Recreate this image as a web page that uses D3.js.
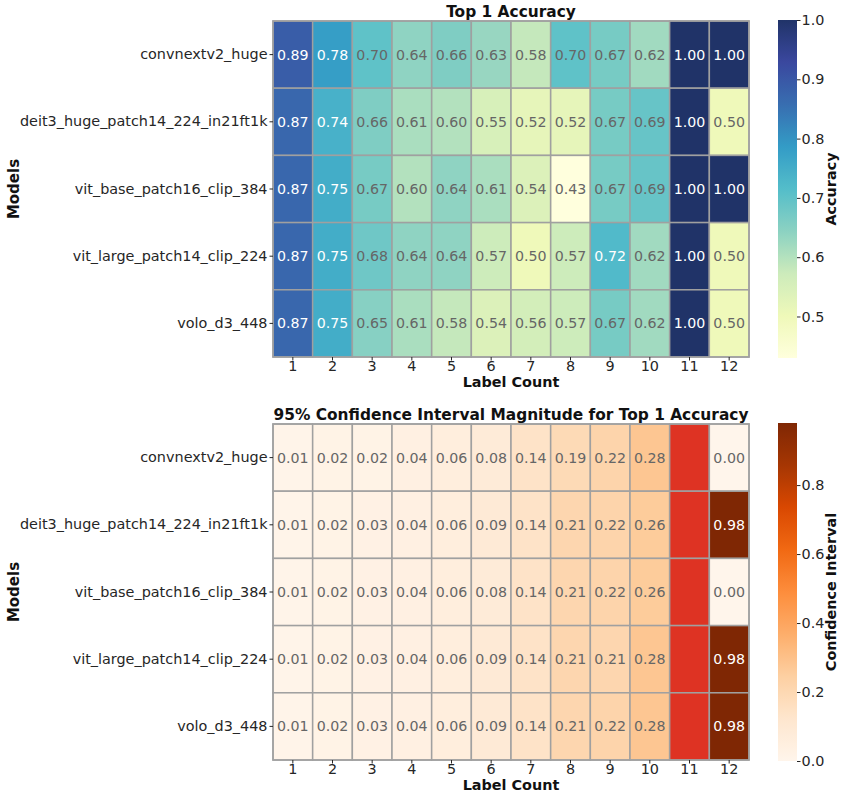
<!DOCTYPE html>
<html>
<head>
<meta charset="utf-8">
<script src="https://cdn.jsdelivr.net/npm/d3@7"></script>
<style>
body{margin:0;background:#fff;}
text{font-family:"DejaVu Sans",sans-serif;}
</style>
</head>
<body>
<svg id="chart" width="842" height="793"></svg>
<script>
const models = ["convnextv2_huge","deit3_huge_patch14_224_in21ft1k","vit_base_patch16_clip_384","vit_large_patch14_clip_224","volo_d3_448"];
const labelCounts = [1,2,3,4,5,6,7,8,9,10,11,12];
const accuracy = [
  [0.89,0.78,0.70,0.64,0.66,0.63,0.58,0.70,0.67,0.62,1.00,1.00],
  [0.87,0.74,0.66,0.61,0.60,0.55,0.52,0.52,0.67,0.69,1.00,0.50],
  [0.87,0.75,0.67,0.60,0.64,0.61,0.54,0.43,0.67,0.69,1.00,1.00],
  [0.87,0.75,0.68,0.64,0.64,0.57,0.50,0.57,0.72,0.62,1.00,0.50],
  [0.87,0.75,0.65,0.61,0.58,0.54,0.56,0.57,0.67,0.62,1.00,0.50]
];
const confInterval = [
  [0.01,0.02,0.02,0.04,0.06,0.08,0.14,0.19,0.22,0.28,null,0.00],
  [0.01,0.02,0.03,0.04,0.06,0.09,0.14,0.21,0.22,0.26,null,0.98],
  [0.01,0.02,0.03,0.04,0.06,0.08,0.14,0.21,0.22,0.26,null,0.00],
  [0.01,0.02,0.03,0.04,0.06,0.09,0.14,0.21,0.21,0.28,null,0.98],
  [0.01,0.02,0.03,0.04,0.06,0.09,0.14,0.21,0.22,0.28,null,0.98]
];
const accTicks = [0.5,0.6,0.7,0.8,0.9,1.0];
const ciTicks = [0.0,0.2,0.4,0.6,0.8];

const svg = d3.select("#chart");
const X0 = 273, X1 = 749;
const CBX = 778, CBW = 19;

const ylgnbu = d3.piecewise(d3.interpolateRgb, d3.schemeYlGnBu[9]);
const oranges = d3.piecewise(d3.interpolateRgb, d3.schemeOranges[9]);

function luminance(c){
  const col = d3.rgb(c);
  const f = v => { v/=255; return v<=0.03928? v/12.92 : Math.pow((v+0.055)/1.055,2.4); };
  return 0.2126*f(col.r)+0.7152*f(col.g)+0.0722*f(col.b);
}

function heatmap(opts){
  const {data, y0, y1, interp, domain, title, cbLabel, ticks, nanColor, alpha} = opts;
  const x = d3.scaleBand().domain(labelCounts).range([X0,X1]);
  const y = d3.scaleBand().domain(models).range([y0,y1]);
  const color = d3.scaleSequential(interp).domain(domain);
  const g = svg.append("g");
  const cells = [];
  data.forEach((row,i)=>row.forEach((v,j)=>cells.push({m:models[i],c:labelCounts[j],v})));
  const fillOf = d => d.v===null ? nanColor : color(d.v);
  g.selectAll("rect.cell").data(cells).join("rect")
    .attr("class","cell")
    .attr("x",d=>x(d.c)).attr("y",d=>y(d.m))
    .attr("width",x.bandwidth()).attr("height",y.bandwidth())
    .attr("fill",fillOf).attr("fill-opacity",d=>d.v===null?1:alpha)
    .attr("stroke","#a0a0a0").attr("stroke-width",1.5);
  g.selectAll("text.ann").data(cells.filter(d=>d.v!==null)).join("text")
    .attr("class","ann")
    .attr("x",d=>x(d.c)+x.bandwidth()/2).attr("y",d=>y(d.m)+y.bandwidth()/2)
    .attr("text-anchor","middle").attr("dominant-baseline","central")
    .attr("font-size",14.2)
    .attr("fill",d=>luminance(fillOf(d))<0.408?"#ffffff":"#666666")
    .text(d=>d.v.toFixed(2));
  g.append("rect").attr("x",X0).attr("y",y0).attr("width",X1-X0).attr("height",y1-y0)
    .attr("fill","none").attr("stroke","#a0a0a0").attr("stroke-width",1.5);

  // axes
  const ya = d3.axisLeft(y).tickSize(3.5).tickPadding(2);
  const yg = g.append("g").attr("transform",`translate(${X0},0)`).call(ya);
  yg.select(".domain").remove();
  yg.selectAll("text").attr("font-size",14.4).attr("fill","#262626").attr("font-family","DejaVu Sans");
  yg.selectAll("line").attr("stroke","#262626");
  const xa = d3.axisBottom(x).tickSize(3.5).tickPadding(0);
  const xg = g.append("g").attr("transform",`translate(0,${y1})`).call(xa);
  xg.select(".domain").remove();
  xg.selectAll("text").attr("font-size",14.4).attr("fill","#262626").attr("font-family","DejaVu Sans");
  xg.selectAll("line").attr("stroke","#262626");

  g.append("text").attr("x",(X0+X1)/2).attr("y",y1+30).attr("text-anchor","middle")
    .attr("font-size",14.4).attr("font-weight","bold").attr("fill","#111").text("Label Count");
  g.append("text").attr("transform",`translate(19,${(y0+y1)/2}) rotate(-90)`).attr("text-anchor","middle")
    .attr("font-size",15).attr("font-weight","bold").attr("fill","#111").text("Models");
  g.append("text").attr("x",(X0+X1)/2).attr("y",y0-4).attr("text-anchor","middle")
    .attr("font-size",15.4).attr("font-weight","bold").attr("fill","#111").text(title);

  // colorbar
  const cy0 = y0-1, cy1 = y1+1;
  const cs = d3.scaleLinear().domain(domain).range([cy1,cy0]);
  const gid = "grad"+Math.round(y0);
  const grad = svg.append("defs").append("linearGradient").attr("id",gid)
    .attr("x1","0").attr("y1","1").attr("x2","0").attr("y2","0");
  d3.range(0,1.0001,0.025).forEach(t=>{
    grad.append("stop").attr("offset",t).attr("stop-color",interp(t));
  });
  const cg = svg.append("g");
  cg.append("rect").attr("x",CBX).attr("y",cy0).attr("width",CBW).attr("height",cy1-cy0)
    .attr("fill",`url(#${gid})`).attr("fill-opacity",alpha);
  const ca = d3.axisRight(cs).tickValues(ticks).tickFormat(d3.format(".1f")).tickSize(3.5).tickPadding(1);
  const cag = cg.append("g").attr("transform",`translate(${CBX+CBW},0)`).call(ca);
  cag.select(".domain").remove();
  cag.selectAll("text").attr("font-size",14.4).attr("fill","#262626").attr("font-family","DejaVu Sans");
  cag.selectAll("line").attr("stroke","#262626");
  cg.append("text").attr("transform",`translate(836,${(cy0+cy1)/2}) rotate(-90)`).attr("text-anchor","middle")
    .attr("font-size",14.4).attr("font-weight","bold").attr("fill","#111").text(cbLabel);
}

heatmap({data:accuracy, y0:21, y1:357, interp:ylgnbu, domain:[0.43,1.0], alpha:0.9,
  title:"Top 1 Accuracy", cbLabel:"Accuracy", ticks:accTicks, nanColor:"#de3323"});
heatmap({data:confInterval, y0:424, y1:760, interp:oranges, domain:[0,0.98], alpha:1,
  title:"95% Confidence Interval Magnitude for Top 1 Accuracy", cbLabel:"Confidence Interval", ticks:ciTicks, nanColor:"#de3323"});
</script>
</body>
</html>
